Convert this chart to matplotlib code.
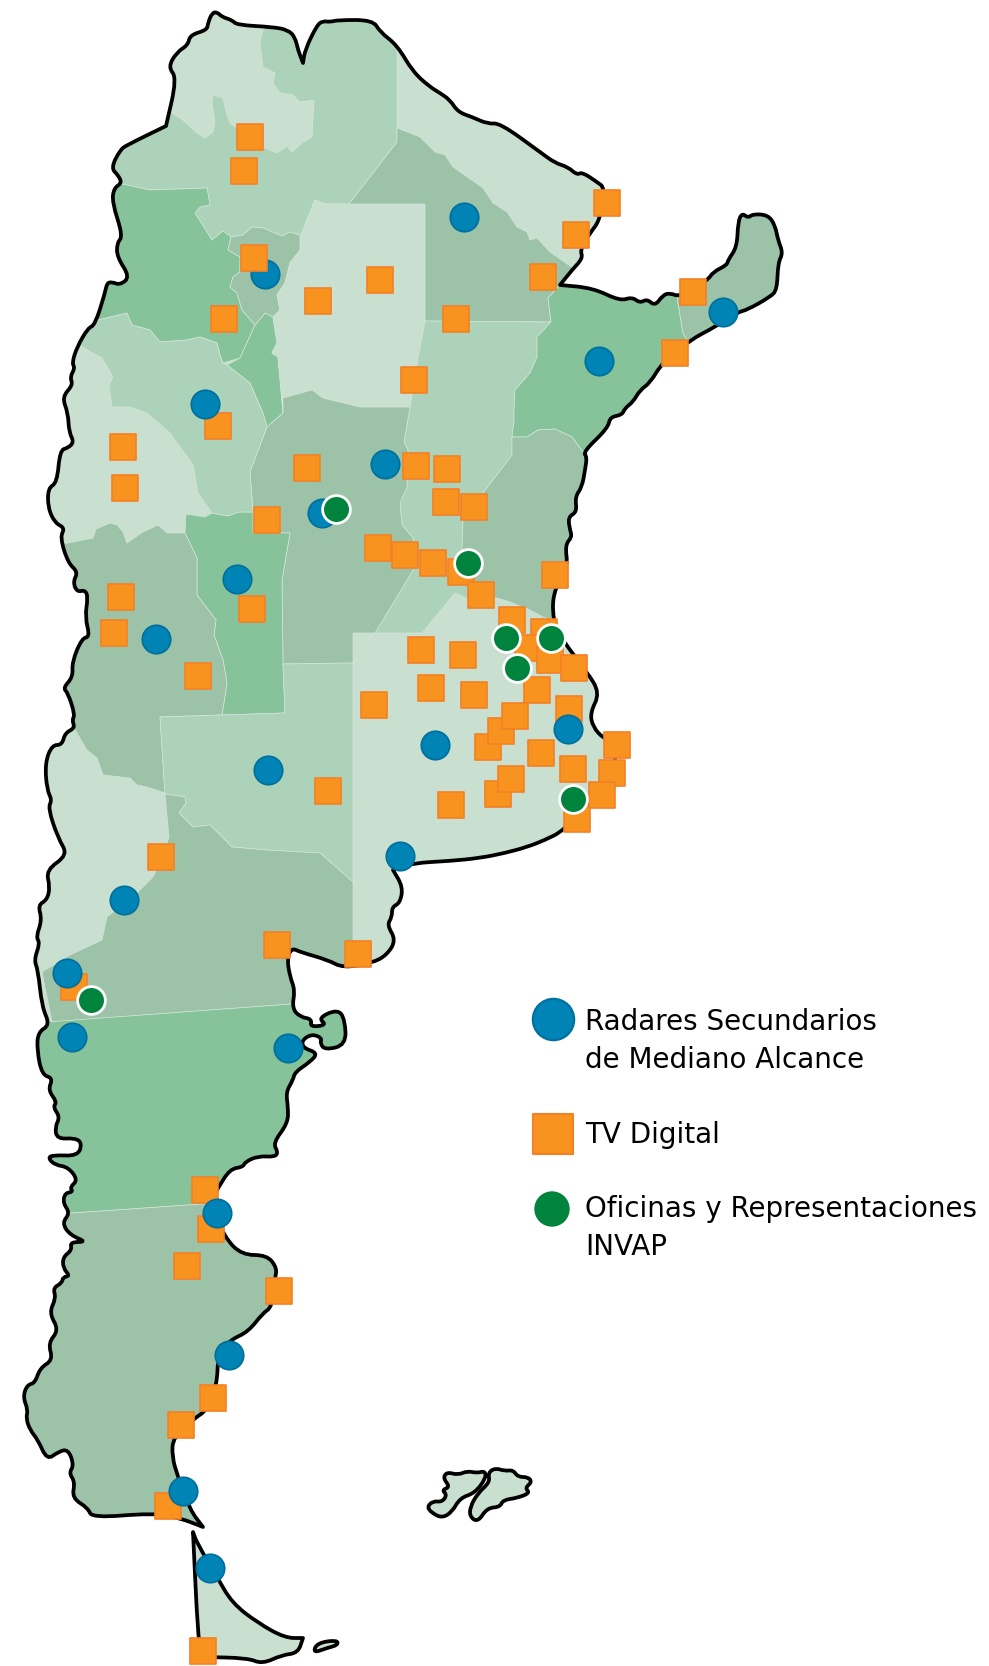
import matplotlib
matplotlib.use("Agg")
import matplotlib.pyplot as plt
from matplotlib.patches import Polygon, PathPatch
from matplotlib.path import Path

LIGHTEST = "#c9dfd0"
LIGHT = "#add2ba"
MID = "#9cc2a8"
STRONG = "#86c39a"

# coast and border, clockwise from the north (a repeated point keeps a corner sharp)
mainland = [
    (208,23),(212,13),(217,12),(222,17),(232,20),(237,25),(273,27),(288,30),(295,37),(298,50),(303,63),(303,63),(305,50),
    (317,25),(323,21),(330,22),(338,20),(373,20),(380,32),(397,45),(413,72),(430,87),(440,93),(450,100),(458,112),
    (472,117),(488,124),(500,123),(540,152),(555,163),(568,167),(577,175),(582,172),(597,182),(605,188),(600,220),
    (590,233),(580,250),(583,258),(572,270),(560,285),(560,285),(593,288),(620,301),(632,297),(640,303),(647,299),(655,306),
    (663,295),(670,293),(680,297),(708,280),(713,272),(727,265),(728,260),(737,247),(738,222),(742,213),(748,218),
    (753,214),(768,215),(775,225),(778,240),(783,253),(778,263),(777,290),(770,297),(747,310),(738,312),(715,327),
    (690,340),(662,363),(650,383),(640,390),(633,402),(625,408),(622,415),(610,417),(608,428),(583,452),(587,457),
    (585,470),(582,487),(575,497),(577,512),(568,517),(570,530),(572,537),(565,545),(568,567),(555,588),(552,610),
    (557,633),(587,672),(600,693),(590,713),(593,727),(603,738),(617,745),(613,773),(597,797),(563,831),(545,840),(527,847),
    (505,853),(480,858),(450,861),(413,863),(393,870),(393,870),(403,887),(400,903),(392,907),(392,917),(387,925),(396,940),(387,955),(372,963),
    (343,968),(328,960),(300,952),(292,948),(287,958),(290,977),(295,990),(292,1008),(300,1017),(312,1019),(310,1027),
    (327,1025),(318,1018),(338,1009),(345,1020),(346,1045),(325,1050),(320,1043),(322,1038),(312,1034),(302,1040),
    (303,1048),(318,1053),(310,1062),(295,1072),(293,1080),(286,1092),(288,1107),(288,1123),(273,1143),(278,1152),
    (275,1157),(258,1156),(245,1162),(243,1167),(230,1169),(218,1188),(210,1203),(225,1238),(242,1255),(267,1255),
    (277,1268),(275,1278),(272,1307),(263,1313),(248,1332),(230,1340),(218,1355),(217,1385),(207,1410),(195,1418),
    (173,1437),(172,1457),(178,1477),(190,1510),(203,1527),(203,1527),(180,1518),(153,1513),(92,1518),(88,1508),(72,1498),
    (75,1482),(69,1473),(74,1465),(68,1449),(58,1452),(47,1460),(38,1440),(30,1430),(26,1418),(28,1410),(23,1397),
    (27,1385),(35,1383),(40,1368),(53,1360),(48,1343),(59,1330),(49,1313),(56,1298),(53,1288),(62,1283),(63,1277),
    (70,1276),(63,1268),(63,1257),(72,1250),(70,1242),(87,1242),(70,1235),(62,1223),(70,1213),(63,1203),(65,1193),
    (73,1192),(70,1187),(78,1180),(68,1167),(55,1165),(48,1158),(53,1155),(78,1156),(82,1143),(75,1138),(57,1139),
    (55,1127),(60,1117),(53,1107),(57,1102),(48,1090),(53,1078),(42,1075),(37,1050),(38,1032),(50,1025),(42,1007),
    (38,970),(34,960),(40,943),(36,937),(42,920),(38,905),(47,900),(50,887),(46,870),(68,855),(58,838),(48,808),
    (52,800),(47,790),(45,763),(52,745),(62,745),(65,733),(75,728),(72,720),(75,715),(68,693),(63,688),(73,677),
    (72,662),(82,638),(90,637),(85,617),(88,597),(85,590),(77,592),(73,582),(78,572),(68,563),(60,537),(65,528),
    (55,523),(48,508),(48,488),(57,483),(60,450),(68,448),(74,442),(69,432),(68,413),(62,397),(73,385),(70,377),
    (75,368),(72,363),(77,347),(88,328),(95,325),(105,293),(107,283),(112,282),(120,285),(130,277),(117,257),
    (117,243),(123,236),(112,202),(114,188),(122,183),(118,175),(111,168),(120,150),(127,145),(166,126),(166,126),(177,78),
    (168,67),(177,52),(188,45),(190,35),(207,30),
]
tierra = [
    (193,1532),(193,1532),(197,1543),(217,1577),(232,1603),(258,1623),(285,1638),(303,1638),(303,1638),(298,1653),(282,1655),(262,1664),
    (248,1658),(202,1657),(202,1657),(198,1638),
]
staten = [(313,1653),(317,1643),(337,1640),(338,1645),(327,1648)]
malvinas_w = [
    (427,1507),(433,1501),(442,1502),(447,1495),(442,1490),(450,1487),(443,1478),(447,1472),(458,1475),(467,1471),
    (477,1473),(485,1471),(486,1478),(475,1493),(460,1498),(452,1512),(442,1518),(432,1513),
]
malvinas_e = [
    (488,1473),(495,1468),(505,1471),(513,1470),(518,1477),(528,1477),(532,1482),(525,1488),(530,1493),(517,1498),
    (503,1500),(500,1507),(487,1508),(478,1522),(470,1517),(470,1507),(478,1493),(490,1482),
]

# provinces, clipped to the mainland (San Juan, Neuquen, Formosa, Buenos Aires are the base colour)
salta = [(397,0),(397,142),(349,204),(325,204),(315,200),(301,235),(290,232),(282,236),(263,228),(252,227),(243,235),
         (230,237),(223,231),(212,240),(195,213),(200,207),(210,205),(207,188),(150,190),(122,184),(60,184),(60,0)]
jujuy = [(172,113),(183,120),(197,133),(205,138),(213,132),(215,123),(212,103),(213,95),(223,98),(227,115),(230,123),
         (263,147),(277,153),(287,146),(292,152),(303,142),(312,137),(314,100),(300,102),(293,95),(280,93),(273,83),
         (275,73),(263,67),(260,43),(263,30),(263,0),(150,0),(150,113)]
catamarca = [(122,184),(150,190),(207,188),(210,205),(200,207),(195,213),(212,240),(223,231),(231,237),(228,250),
             (240,257),(240,272),(233,277),(230,287),(237,293),(242,310),(255,325),(240,358),(223,363),(220,355),
             (217,343),(200,337),(187,340),(160,342),(150,330),(132,325),(127,313),(98,320),(60,320),(60,184)]
strip = [(265,313),(255,325),(240,358),(227,365),(250,383),(263,413),(267,427),(283,413),(278,357),(272,353),(277,343),
         (273,317)]
tucuman = [(231,237),(243,235),(252,227),(263,228),(282,236),(290,232),(300,235),(300,250),(290,263),(285,283),(277,295),
           (280,310),(273,317),(265,313),(255,325),(242,310),(237,293),(230,287),(233,277),(240,272),(240,257),(228,250)]
santiago = [(315,200),(325,204),(425,204),(425,321),(417,363),(410,407),(360,407),(323,398),(312,390),(283,398),(283,413),
            (278,357),(272,353),(277,343),(273,317),(280,310),(277,295),(285,283),(290,263),(300,250),(301,235)]
chaco = [(397,142),(397,128),(420,137),(435,152),(445,155),(453,167),(483,188),(493,203),(507,212),(517,227),(527,232),
         (530,240),(537,238),(550,252),(573,268),(560,285),(548,298),(551,322),(425,321),(425,204),(349,204)]
santa_fe = [(425,321),(551,322),(537,337),(537,357),(530,373),(515,390),(514,410),(514,422),(512,437),(512,455),(483,493),
            (463,520),(462,550),(470,600),(455,593),(422,633),(375,633),(415,567),(413,538),(402,525),(400,503),(407,487),
            (408,450),(404,442),(410,407),(417,363)]
corrientes = [(560,285),(600,280),(675,285),(683,333),(690,345),(600,470),(583,452),(572,437),(555,429),(538,430),(527,437),
              (512,437),(514,422),(514,410),(515,390),(530,373),(537,357),(537,337),(551,322),(548,298)]
misiones = [(675,285),(680,190),(800,190),(800,320),(690,345),(683,333)]
entre_rios = [(512,437),(527,437),(538,430),(555,429),(572,437),(583,452),(600,452),(600,625),(552,620),(543,617),(530,610),
              (510,602),(497,598),(470,600),(462,550),(463,520),(483,493),(512,455)]
cordoba = [(267,427),(283,413),(283,398),(312,390),(323,398),(360,407),(410,407),(404,442),(408,450),(407,487),(400,503),
           (402,525),(413,538),(415,567),(375,633),(353,633),(353,663),(283,664),(282,580),(290,533),(253,533),(253,512),
           (250,472)]
san_luis = [(186,514),(205,517),(212,513),(228,516),(239,512),(253,512),(253,533),(290,533),(282,580),(283,664),(285,713),
            (222,715),(227,683),(223,660),(214,635),(216,620),(197,595),(197,558),(185,533)]
la_rioja = [(98,320),(127,313),(132,325),(150,330),(160,342),(187,340),(200,337),(217,343),(220,355),(223,363),(227,365),
            (250,383),(263,413),(267,427),(250,472),(253,512),(239,512),(228,516),(212,513),(198,493),(193,465),(170,433),
            (147,413),(130,407),(112,407),(109,385),(113,377),(102,358),(82,347),(70,335)]
mendoza = [(50,545),(68,543),(93,538),(96,529),(110,523),(117,525),(123,532),(127,543),(143,532),(158,525),(167,533),(185,533),
           (197,558),(197,595),(216,620),(214,635),(223,660),(227,683),(222,715),(160,717),(165,793),(147,787),(137,785),
           (130,778),(103,775),(97,758),(87,750),(75,730),(50,700)]
la_pampa = [(160,717),(222,715),(285,713),(283,664),(353,663),(353,882),(320,853),(267,850),(232,847),(210,825),(193,827),
            (179,813),(186,803),(185,797),(165,794)]
rio_negro = [(165,794),(185,797),(186,803),(179,813),(193,827),(210,825),(232,847),(267,850),(320,853),(353,882),(353,975),
             (300,1000),(292,1004),(52,1022),(42,972),(70,955),(102,940),(107,917),(138,892),(153,877),(160,863),(169,837)]
chubut = [(20,1024),(292,1004),(360,999),(360,1190),(217,1203),(73,1213),(20,1217)]
santa_cruz = [(20,1217),(73,1213),(217,1203),(300,1195),(300,1529),(20,1529)]

provinces = [
    (salta, LIGHT), (jujuy, LIGHTEST), (catamarca, STRONG), (strip, STRONG), (tucuman, MID), (santiago, LIGHTEST),
    (chaco, MID), (santa_fe, LIGHT), (corrientes, STRONG), (misiones, MID), (entre_rios, MID), (cordoba, MID),
    (san_luis, STRONG), (la_rioja, LIGHT), (mendoza, MID), (la_pampa, LIGHT), (rio_negro, MID), (chubut, STRONG),
    (santa_cruz, MID),
]

tv_x = [250,244,224,318,380,414,607,576,543,693,675,456,218,123,125,307,267,121,114,252,198,374,328,
        378,405,433,461,481,555,512,544,528,550,574,421,463,431,474,537,569,488,501,515,541,617,612,573,498,511,451,577,602,
        161,277,358,74,205,211,187,279,213,181,168,203,416,447,446,474]
tv_y = [137,171,319,301,280,380,203,235,277,292,353,319,426,447,488,468,520,597,633,609,676,705,791,
        548,555,563,572,595,575,620,632,648,660,668,650,655,688,695,690,709,747,731,716,753,745,773,769,794,779,805,819,795,
        857,945,954,987,1190,1229,1266,1291,1398,1425,1506,1651,466,469,502,507]
radar_x = [464,723,599,205,385,322,237,156,268,568,435,400,124,67,72,288,217,229,183,210,265]
radar_y = [217,312,361,404,464,513,579,639,770,729,745,856,900,973,1037,1048,1213,1355,1491,1568,274]
tv_top_x = [254]
tv_top_y = [258]
office_x = [336,468,506,551,517,573,91]
office_y = [509,563,638,638,668,799,1000]

legend_radar = (553, 1019)
legend_tv = (553, 1134)
legend_office = (552, 1209)
legend_lines = [
    ("Radares Secundarios", 1030),
    ("de Mediano Alcance", 1068),
    ("TV Digital", 1143),
    ("Oficinas y Representaciones", 1217),
    ("INVAP", 1255),
]


def smooth(pts):
    # closed quadratic curve: the traced points are the control points
    mids = [((a[0] + b[0]) / 2, (a[1] + b[1]) / 2) for a, b in zip(pts, pts[1:] + pts[:1])]
    verts = [mids[-1]]
    codes = [Path.MOVETO]
    for p, m in zip(pts, mids):
        verts += [p, m]
        codes += [Path.CURVE3, Path.CURVE3]
    return Path(verts, codes)


fig = plt.figure(figsize=(9.89, 16.66), dpi=100)
ax = fig.add_axes([0, 0, 1, 1])
ax.set_xlim(0, 989)
ax.set_ylim(1666, 0)
ax.axis("off")

base = PathPatch(smooth(mainland), facecolor=LIGHTEST, edgecolor="none", zorder=1)
ax.add_patch(base)
for pts, col in provinces:
    p = Polygon(pts, closed=True, facecolor=col, edgecolor="#d3e6d9", linewidth=0.5, zorder=2)
    ax.add_patch(p)
    p.set_clip_path(base)

for pts in [mainland, tierra, staten, malvinas_w, malvinas_e]:
    fc = "none" if pts is mainland else LIGHTEST
    ax.add_patch(PathPatch(smooth(pts), facecolor=fc, edgecolor="black", linewidth=2.7, joinstyle="round", zorder=3))

TV = dict(marker="s", s=360, c="#f7931e", edgecolors="#f58025", linewidths=1.2)
RADAR = dict(marker="o", s=420, c="#0083b5", edgecolors="#006f9c", linewidths=1.2)

ax.scatter(tv_x, tv_y, zorder=4, **TV)
ax.scatter(radar_x, radar_y, zorder=5, **RADAR)
ax.scatter(tv_top_x, tv_top_y, zorder=6, **TV)
ax.scatter(office_x, office_y, marker="o", s=400, c="#00843d", edgecolors="white", linewidths=2, zorder=7)

# legend
ax.scatter(*legend_radar, marker="o", s=890, c="#0083b5", edgecolors="#006f9c", linewidths=1.5, zorder=4)
ax.scatter(*legend_tv, marker="s", s=800, c="#f7931e", edgecolors="#f58025", linewidths=1.5, zorder=4)
ax.scatter(*legend_office, marker="o", s=650, c="#00843d", edgecolors="none", zorder=4)
for txt, y in legend_lines:
    ax.text(585, y, txt, fontsize=20, family="DejaVu Sans", color="black", ha="left", va="baseline")

fig.savefig("out.png", dpi=100)
